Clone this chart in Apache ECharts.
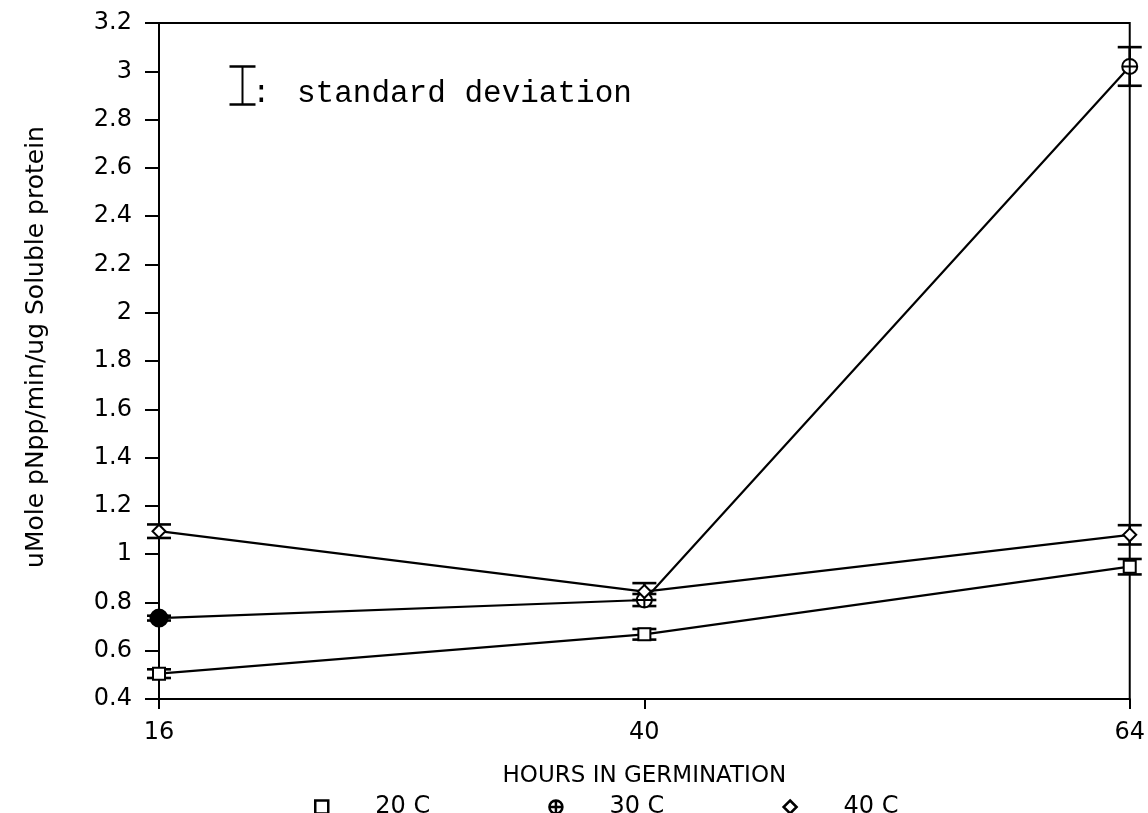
<!DOCTYPE html>
<html><head><meta charset="utf-8">
<script src="https://cdn.jsdelivr.net/npm/echarts@6/dist/echarts.min.js"></script>
<style>html,body{margin:0;padding:0;background:#fff}#c{width:1148px;height:813px}</style>
</head><body><div id="c"></div>
<script>
const hours = ['16', '40', '64'];
const mean20 = [0.505, 0.668, 0.948];
const sd20 = [0.018, 0.022, 0.032];
const mean30 = [0.735, 0.81, 3.02];
const sd30 = [0.01, 0.025, 0.08];
const mean40 = [1.095, 0.845, 1.08];
const sd40 = [0.028, 0.035, 0.04];
const seriesNames = ['20 C', '30 C', '40 C'];

const circlePlus = 'path://M0,-10A10,10 0 1,1 0,10A10,10 0 1,1 0,-10ZM-10,0L10,0M0,-10L0,10';
const FONT = 'DejaVu Sans';

function errSeries(name, means, sds) {
  return {
    type: 'custom', name: name + ' sd', silent: true, z: 3,
    data: means.map((m, i) => [i, m - sds[i], m + sds[i]]),
    renderItem: function (params, api) {
      const lo = api.coord([api.value(0), api.value(1)]);
      const hi = api.coord([api.value(0), api.value(2)]);
      const w = 12;
      const st = { stroke: '#000', lineWidth: 2.6 };
      return { type: 'group', children: [
        { type: 'line', shape: { x1: lo[0], y1: lo[1], x2: hi[0], y2: hi[1] }, style: st },
        { type: 'line', shape: { x1: lo[0] - w, y1: lo[1], x2: lo[0] + w, y2: lo[1] }, style: st },
        { type: 'line', shape: { x1: hi[0] - w, y1: hi[1], x2: hi[0] + w, y2: hi[1] }, style: st }
      ]};
    }
  };
}
function lineSeries(name, means, symbol, size, firstFilled) {
  return {
    type: 'line', name: name, z: 4,
    data: means.map((m, i) => (firstFilled && i === 0) ? { value: m, symbolSize: 17, itemStyle: { color: '#000' } } : m),
    symbol: symbol, symbolSize: size, showSymbol: true,
    lineStyle: { color: '#000', width: 2.2 },
    itemStyle: { color: '#fff', borderColor: '#000', borderWidth: 2 }
  };
}

const chart = echarts.init(document.getElementById('c'));
chart.setOption({
  animation: false,
  backgroundColor: '#fff',
  grid: { left: 159, right: 18, top: 23, bottom: 114, show: true, borderColor: '#000', borderWidth: 2 },
  xAxis: {
    type: 'category', data: hours, boundaryGap: false,
    name: 'HOURS IN GERMINATION', nameLocation: 'middle', nameGap: 66,
    nameTextStyle: { fontFamily: FONT, fontSize: 23, color: '#000', verticalAlign: 'top' },
    axisLine: { lineStyle: { color: '#000', width: 2 } },
    axisTick: { show: true, inside: false, length: 10, alignWithLabel: true, lineStyle: { color: '#000', width: 2 } },
    axisLabel: { fontFamily: FONT, fontSize: 24, color: '#000', margin: 22 },
    splitLine: { show: false }
  },
  yAxis: {
    type: 'value', min: 0.4, max: 3.2, interval: 0.2,
    name: 'uMole pNpp/min/ug Soluble protein', nameLocation: 'middle', nameGap: 110,
    nameTextStyle: { fontFamily: FONT, fontSize: 25, color: '#000', padding: [0, 0, 0, 28] },
    axisLine: { show: true, lineStyle: { color: '#000', width: 2 } },
    axisTick: { show: true, inside: false, length: 14, lineStyle: { color: '#000', width: 2 } },
    axisLabel: { fontFamily: FONT, fontSize: 24, color: '#000', margin: 27,
      formatter: v => String(Math.round(v * 10) / 10) },
    splitLine: { show: false }
  },
  legend: {
    top: 790, left: 309, itemGap: 118, itemWidth: 13, itemHeight: 13,
    data: [
      { name: '20 C', icon: 'rect', itemStyle: { color: '#fff', borderColor: '#000', borderWidth: 2.5 } },
      { name: '30 C', icon: circlePlus, itemStyle: { color: '#fff', borderColor: '#000', borderWidth: 2.5 } },
      { name: '40 C', icon: 'diamond', itemStyle: { color: '#fff', borderColor: '#000', borderWidth: 2.5 } }
    ],
    textStyle: { fontFamily: FONT, fontSize: 24, color: '#000', padding: [0, 0, 0, 42] }
  },
  graphic: [
    { type: 'group', left: 227, top: 64, children: [
      { type: 'line', shape: { x1: 0, y1: 1, x2: 26, y2: 1 }, style: { stroke: '#000', lineWidth: 2.5 } },
      { type: 'line', shape: { x1: 13, y1: 1, x2: 13, y2: 39 }, style: { stroke: '#000', lineWidth: 2 } },
      { type: 'line', shape: { x1: 0, y1: 39, x2: 26, y2: 39 }, style: { stroke: '#000', lineWidth: 2.5 } }
    ]},
    { type: 'text', left: 252, top: 78, style: { text: ':', fontFamily: 'Liberation Mono', fontSize: 31, fill: '#000' } },
    { type: 'text', left: 297, top: 78, style: { text: 'standard deviation', fontFamily: 'Liberation Mono', fontSize: 31, fill: '#000' } }
  ],
  series: [
    lineSeries('20 C', mean20, 'rect', 12, false),
    lineSeries('30 C', mean30, circlePlus, 15, true),
    lineSeries('40 C', mean40, 'diamond', 13, false),
    errSeries('20 C', mean20, sd20),
    errSeries('30 C', mean30, sd30),
    errSeries('40 C', mean40, sd40)
  ]
});
</script></body></html>
